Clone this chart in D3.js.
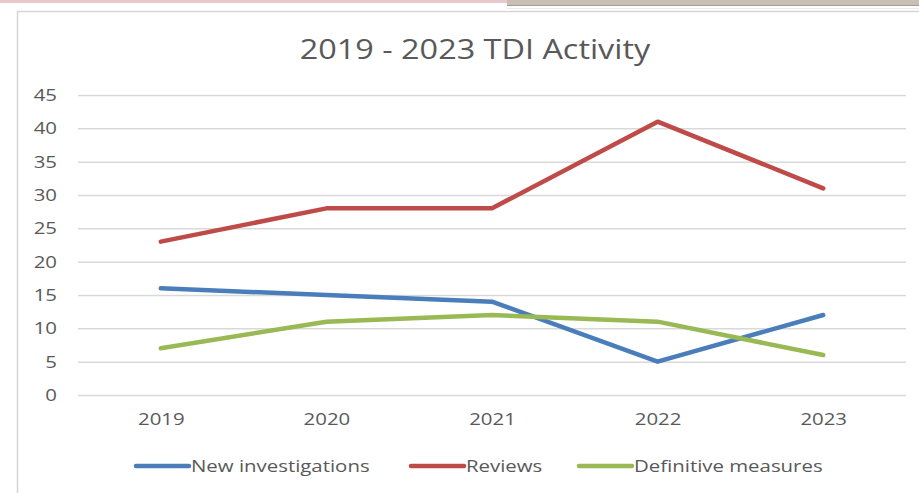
<!DOCTYPE html>
<html>
<head>
<meta charset="utf-8">
<script src="https://cdn.jsdelivr.net/npm/d3@7"></script>
<style>
  body { margin: 0; background: #fff; }
  svg { display: block; font-family: "Open Sans", sans-serif; }
</style>
</head>
<body>
<svg width="919" height="493"></svg>
<script>
const years = ['2019', '2020', '2021', '2022', '2023'];
const newInvestigations = [16, 15, 14, 5, 12];
const reviews = [23, 28, 28, 41, 31];
const definitiveMeasures = [7, 11, 12, 11, 6];
const yTicks = [0, 5, 10, 15, 20, 25, 30, 35, 40, 45];

const series = [
  { name: 'New investigations', values: newInvestigations, color: '#4a7ebb' },
  { name: 'Reviews', values: reviews, color: '#be4b48' },
  { name: 'Definitive measures', values: definitiveMeasures, color: '#98b954' }
];

// the source picture is a bit stretched sideways
const stretch = 1.2;

const svg = d3.select('svg');

// page bits around the chart frame
svg.append('rect').attr('x', 0).attr('y', 0).attr('width', 507).attr('height', 3).attr('fill', '#e7c9cc');
svg.append('rect').attr('x', 507).attr('y', 0).attr('width', 412).attr('height', 5).attr('fill', '#c9bfb3');
svg.append('line').attr('x1', 507).attr('x2', 919).attr('y1', 5.5).attr('y2', 5.5).attr('stroke', '#a39c95');
svg.append('line').attr('x1', 507).attr('x2', 919).attr('y1', 8.5).attr('y2', 8.5).attr('stroke', '#ececec');

svg.append('path')
  .attr('d', 'M17.5,493V11.5H919')
  .attr('fill', 'none')
  .attr('stroke', '#d6d6d6')
  .attr('stroke-width', 1.5);

const x = d3.scalePoint().domain(years).range([78, 906]).padding(0.5);
const y = d3.scaleLinear().domain([0, 45]).range([395, 95]);

svg.append('text')
  .attr('transform', `translate(475,59) scale(${stretch},1)`)
  .attr('text-anchor', 'middle')
  .attr('font-size', 27)
  .attr('fill', '#595959')
  .text('2019 - 2023 TDI Activity');

const grid = svg.append('g')
  .call(d3.axisLeft(y).tickValues(yTicks).tickSize(-(906 - 78)).tickPadding(17.5))
  .attr('transform', 'translate(78,0)');
grid.select('.domain').remove();
grid.selectAll('.tick line').attr('stroke', '#d9d9d9').attr('stroke-width', 1.5);
grid.selectAll('.tick text')
  .attr('transform', `scale(${stretch},1)`)
  .attr('font-size', 17)
  .attr('font-family', '"Open Sans", sans-serif')
  .attr('fill', '#595959');

const xAxis = svg.append('g')
  .attr('transform', 'translate(0,395)')
  .call(d3.axisBottom(x).tickSize(0).tickPadding(18));
xAxis.select('.domain').remove();
xAxis.selectAll('.tick text')
  .attr('transform', `scale(${stretch},1)`)
  .attr('font-size', 17)
  .attr('font-family', '"Open Sans", sans-serif')
  .attr('fill', '#595959');

const line = d3.line()
  .x((d, i) => x(years[i]))
  .y(d => y(d));

svg.selectAll('.series').data(series)
  .enter().append('path')
  .attr('class', 'series')
  .attr('d', d => line(d.values))
  .attr('fill', 'none')
  .attr('stroke', d => d.color)
  .attr('stroke-width', 4.5)
  .attr('stroke-linecap', 'round')
  .attr('stroke-linejoin', 'round');

// legend
const legendX = [136, 411, 579];
const legend = svg.selectAll('.legend').data(series)
  .enter().append('g')
  .attr('class', 'legend')
  .attr('transform', (d, i) => `translate(${legendX[i]},466)`);

legend.append('line')
  .attr('x1', 0).attr('x2', 53)
  .attr('stroke', d => d.color)
  .attr('stroke-width', 4.5)
  .attr('stroke-linecap', 'round');

legend.append('text')
  .attr('transform', `translate(55,0) scale(${stretch},1)`)
  .attr('dy', '0.35em')
  .attr('font-size', 17)
  .attr('fill', '#595959')
  .text(d => d.name);
</script>
</body>
</html>
